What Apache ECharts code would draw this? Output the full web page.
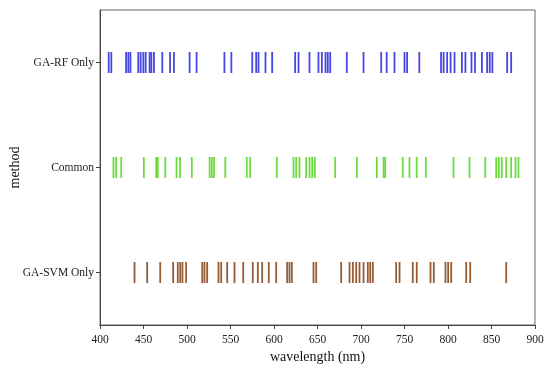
<!DOCTYPE html>
<html>
<head>
<meta charset="utf-8">
<script src="https://cdn.jsdelivr.net/npm/echarts@6/dist/echarts.min.js"></script>
<style>html,body{margin:0;padding:0;background:#fff}#c{width:550px;height:370px}</style>
</head>
<body>
<div id="c"></div>
<script>
const categories = ['GA-SVM Only', 'Common', 'GA-RF Only'];
const xTicks = [400, 450, 500, 550, 600, 650, 700, 750, 800, 850, 900];
const gaRfOnly = [410, 413, 430, 432.6, 435, 444, 446.7, 449.8, 452.5, 457, 459, 462, 471.6, 480.5, 485, 503, 511, 543, 551,
  575, 579.5, 582.2, 590.2, 597.9, 624.3, 628.2, 640.8, 651.1, 655, 659.2, 661.8, 664.6, 683.7, 702.9, 723.2, 729.5,
  738.5, 750, 753, 767, 792, 795, 799, 803, 807.5, 816, 820, 827, 831, 839, 845, 848, 851, 868, 872.6];
const common = [415.5, 418.6, 424.4, 450.4, 464.6, 466.4, 475, 488, 492, 505.5, 526, 528.5, 531, 544,
  568.7, 572.6, 603.2, 622.4, 625.5, 629.3, 637, 640.8, 643.9, 646.9, 670.3, 695.2, 718.2, 725.9, 727.8,
  748, 755.7, 764, 774.5, 806.3, 824.7, 842.8, 855.4, 858.4, 861.8, 866.9, 872.6, 877.6, 881];
const gaSvmOnly = [439.7, 454.2, 469.2, 484.1, 489.4, 492.2, 494.8, 499, 517.5, 520.1, 523.2, 536.2, 539.3, 546.2, 554.6, 564.6,
  575.6, 581.4, 586.4, 594, 602.5, 615.1, 617.8, 620.5, 645.4, 648.5, 677.2, 686.8, 690.6, 694.5, 698.3, 702.9, 707.8, 710.6, 713.6,
  740.4, 744.3, 759.5, 764.1, 779.9, 783.7, 797.1, 800.2, 803.7, 820.9, 825.5, 866.9];

const font = 'Liberation Serif, Times New Roman, serif';
function mk(name, vals, color) {
  return {
    name: name, type: 'scatter', symbol: 'rect', symbolSize: [1.8, 21],
    itemStyle: { color: color, opacity: 0.9 },
    data: vals.map(v => [v, name])
  };
}
const chart = echarts.init(document.getElementById('c'));
chart.setOption({
  animation: false,
  grid: { left: 100, right: 15, top: 10, bottom: 45, containLabel: false, outerBoundsMode: 'none',
    show: true, borderColor: '#666', borderWidth: 1 },
  xAxis: {
    type: 'value', min: 400, max: 900, interval: 50,
    name: 'wavelength (nm)', nameLocation: 'middle', nameGap: 25, nameMoveOverlap: false,
    nameTextStyle: { fontFamily: font, fontSize: 14, color: '#111' },
    axisLine: { show: true, lineStyle: { color: '#444' } },
    axisTick: { show: true, length: 4, lineStyle: { color: '#444' } },
    axisLabel: { fontFamily: font, fontSize: 11.5, color: '#222', margin: 9,
      formatter: v => xTicks.includes(v) ? String(v) : '' },
    splitLine: { show: false }
  },
  yAxis: {
    type: 'category', data: categories,
    name: 'method', nameLocation: 'middle', nameGap: 78, nameRotate: 90, nameMoveOverlap: false,
    nameTextStyle: { fontFamily: font, fontSize: 14, color: '#111' },
    axisLine: { show: true, lineStyle: { color: '#444' } },
    axisTick: { show: true, alignWithLabel: true, length: 4, lineStyle: { color: '#444' } },
    axisLabel: { fontFamily: font, fontSize: 11.5, color: '#222', margin: 6 },
    splitLine: { show: false }
  },
  series: [
    mk('GA-RF Only', gaRfOnly, '#3333e0'),
    mk('Common', common, '#5ed62e'),
    mk('GA-SVM Only', gaSvmOnly, '#8b4a20')
  ]
});
</script>
</body>
</html>
